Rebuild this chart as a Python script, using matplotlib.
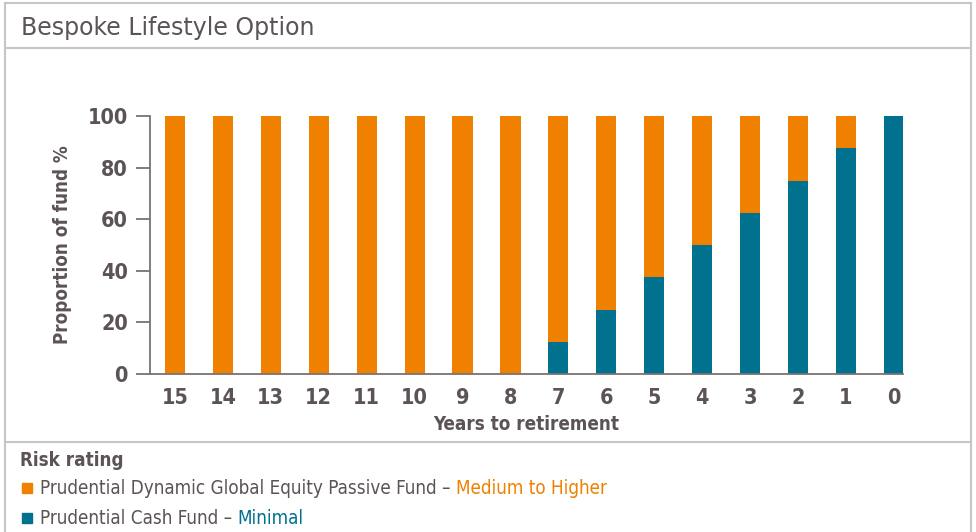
import matplotlib.pyplot as plt
from matplotlib import font_manager as fm
from matplotlib.patches import Rectangle
from matplotlib.lines import Line2D

years = ["15", "14", "13", "12", "11", "10", "9", "8", "7", "6", "5", "4", "3", "2", "1", "0"]
cash = [0, 0, 0, 0, 0, 0, 0, 0, 12.5, 25, 37.5, 50, 62.5, 75, 87.5, 100]
equity = [100 - c for c in cash]

ORANGE = "#f08100"
TEXT = "#5c5454"
TEAL = "#00718f"
AXIS = "#7a7272"
FRAME = "#c9c5c5"

# the chart uses a condensed sans; DejaVu Sans Condensed is the closest installed face
has_cond = any(f.name == "DejaVu Sans" and f.stretch == "condensed"
               for f in fm.fontManager.ttflist)
COND = ["DejaVu Sans"]
STRETCH = "condensed" if has_cond else "normal"

W, H = 976, 532
fig = plt.figure(figsize=(W / 100, H / 100), dpi=100)


def fx(px):
    return px / W


def fy(py):
    return 1 - py / H


def ctext(**kw):
    return dict(family=COND, fontstretch=STRETCH, **kw)


# outer frame and separators
for xs, ys in [([5, 5], [3, 540]), ([971, 971], [3, 540]), ([5, 971], [3, 3]),
               ([5, 971], [48, 48]), ([5, 971], [442, 442])]:
    fig.add_artist(Line2D([fx(x) for x in xs], [fy(y) for y in ys], color=FRAME, lw=1.5))

fig.text(fx(21), fy(28), "Bespoke Lifestyle Option", family="DejaVu Sans",
         fontstretch="normal", fontsize=17, color=TEXT, va="center", ha="left")

ax = fig.add_axes([fx(150), fy(374), fx(903) - fx(150), (374 - 116) / H])
x = list(range(len(years)))
ax.bar(x, cash, width=0.42, color=TEAL)
ax.bar(x, equity, bottom=cash, width=0.42, color=ORANGE)

ax.set_xlim(-0.52, 15.19)
ax.set_ylim(0, 100)
ax.set_yticks([0, 20, 40, 60, 80, 100])
ax.set_xticks(x)
ax.set_xticklabels(years)
for s in ["top", "right"]:
    ax.spines[s].set_visible(False)
for s in ["left", "bottom"]:
    ax.spines[s].set_color(AXIS)
    ax.spines[s].set_linewidth(1.3)
ax.tick_params(axis="y", length=10, width=1.3, color=AXIS, pad=6)
ax.tick_params(axis="x", length=0, pad=10)
for lab in ax.get_yticklabels() + ax.get_xticklabels():
    lab.set_family(COND)
    lab.set_fontstretch(STRETCH)
    lab.set_fontsize(15.5)
    lab.set_fontweight("bold")
    lab.set_color(TEXT)

ax.set_ylabel("Proportion of fund %", fontsize=13.5, fontweight="bold",
              color=TEXT, labelpad=11, **ctext())
ax.set_xlabel("Years to retirement", fontsize=13.5, fontweight="bold",
              color=TEXT, labelpad=5, **ctext())

# risk rating legend
fig.text(fx(20), fy(460), "Risk rating", fontsize=13.5, fontweight="bold",
         color=TEXT, va="center", **ctext())
legend_rows = [
    ("Prudential Dynamic Global Equity Passive Fund – ", "Medium to Higher", ORANGE, 488),
    ("Prudential Cash Fund – ", "Minimal", TEAL, 518),
]
renderer = fig.canvas.get_renderer()
for label, rating, col, py in legend_rows:
    fig.add_artist(Rectangle((fx(22), fy(py + 5)), fx(10), 10 / H, color=col,
                             transform=fig.transFigure))
    t = fig.text(fx(40), fy(py), label, fontsize=13.5, color=TEXT, va="center", **ctext())
    bb = t.get_window_extent(renderer)
    fig.text(bb.x1 / W, fy(py), rating, fontsize=13.5, color=col, va="center", **ctext())

fig.savefig("out.png", dpi=100)
